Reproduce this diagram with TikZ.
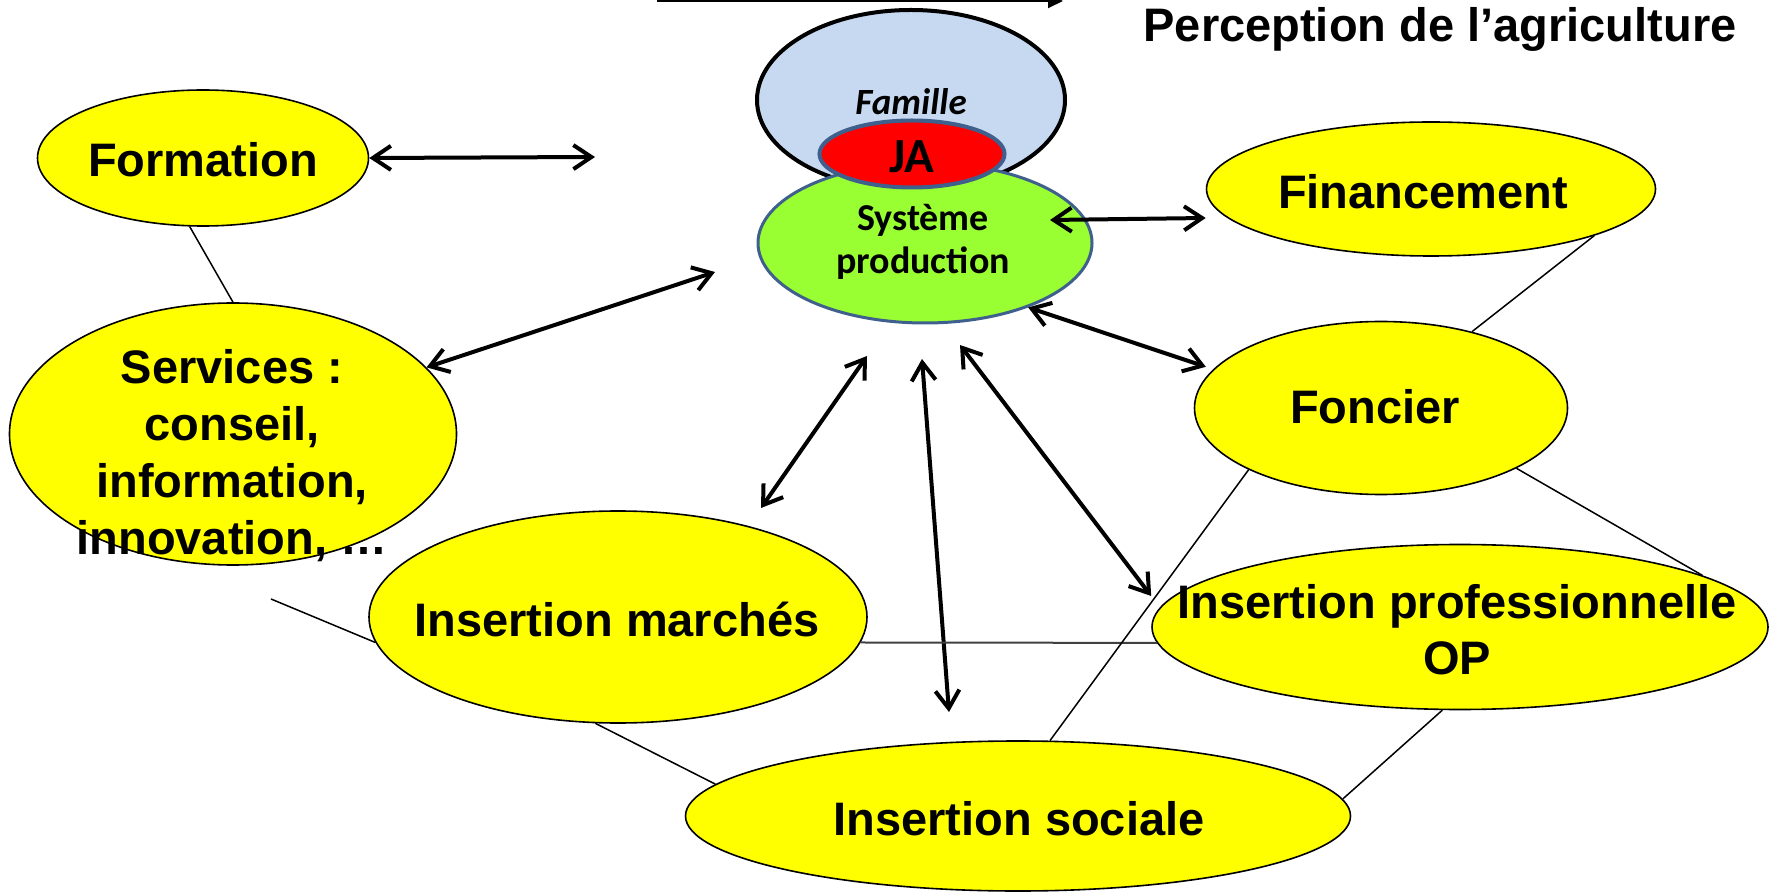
\documentclass[tikz,border=0pt]{standalone}
\usepackage{fontspec}
\setmainfont{Liberation Sans}
\newfontfamily\calibri{Carlito}
\usetikzlibrary{shapes.geometric,arrows.meta}
\definecolor{amarillo}{HTML}{FFFF00}
\definecolor{verde}{HTML}{99FF33}
\definecolor{celeste}{HTML}{C6D9F1}
\definecolor{azul}{HTML}{3F5F8C}
\tikzset{
  elipse/.style={ellipse, draw, fill=amarillo, line width=0.8pt, inner sep=0pt},
  etiq/.style={font=\bfseries\fontsize{23.5}{28.5}\selectfont, align=center, inner sep=0pt},
  flecha/.style={<->, line width=2pt},
  enlace/.style={line width=0.75pt}
}
\begin{document}
\begin{tikzpicture}[x=0.5pt, y=-0.5pt, >={Straight Barb[length=9pt,width=12pt]}]
    \useasboundingbox (0,0) rectangle (1771,892);

    % Dibuja las elipses amarillas
    \node[elipse, minimum width=165.5pt, minimum height=68pt] (form) at (203,158) {};
    \node[elipse, minimum width=223.5pt, minimum height=131pt] (serv) at (233,434) {};
    \node[elipse, minimum width=249pt, minimum height=106pt] (marches) at (618,617) {};
    \node[elipse, minimum width=224.5pt, minimum height=67pt] (finan) at (1431,189) {};
    \node[elipse, minimum width=186.5pt, minimum height=86.5pt] (fonc) at (1381,408) {};
    \node[elipse, minimum width=308pt, minimum height=82.5pt] (prof) at (1460,627) {};
    \node[elipse, minimum width=332.5pt, minimum height=75pt] (soc) at (1018,816) {};

    % Dibuja la familia, el sistema y el JA
    \node[ellipse, draw, line width=2pt, fill=celeste, inner sep=0pt,
          minimum width=154pt, minimum height=90pt] (fam) at (911,100) {};
    \node[ellipse, draw=azul, line width=1.5pt, fill=verde, inner sep=0pt,
          minimum width=167pt, minimum height=80pt] (sys) at (925,243) {};
    \node[ellipse, draw=azul, line width=2pt, fill=red, inner sep=0pt,
          minimum width=92.5pt, minimum height=33.5pt] (ja) at (912,154) {};

    % Etiquetas
    \node[etiq] (form-t) at (203,160) {Formation};
    \node[etiq] (serv-t) at (232,456) {Services :\\conseil,\\information,\\innovation, …};
    \node[etiq] (marches-t) at (617,619) {Insertion marchés};
    \node[etiq] (finan-t) at (1423,192) {Financement};
    \node[etiq] (fonc-t) at (1375,407) {Foncier};
    \node[etiq, font=\bfseries\fontsize{23.5}{28}\selectfont] (prof-t) at (1457,630) {Insertion professionnelle\\OP};
    \node[etiq] (soc-t) at (1019,819) {Insertion sociale};
    \node[etiq] (titulo) at (1440,29) {Perception de l’agriculture};
    \node[font=\calibri\bfseries\itshape\fontsize{18.5}{22}\selectfont, inner sep=0pt] (fam-t) at (911,102) {Famille};
    \node[font=\calibri\bfseries\fontsize{24.5}{28}\selectfont, inner sep=0pt] (ja-t) at (912,157) {JA};
    \node[font=\calibri\bfseries\fontsize{19}{21.5}\selectfont, align=center, inner sep=0pt] (sys-t) at (923,242) {Système\\production};

    % Extremos libres de las flechas
    \coordinate (f1) at (595,157);
    \coordinate (s1) at (715,272);
    \coordinate (c1) at (1050,220);
    \coordinate (m1) at (867,356);
    \coordinate (m2) at (761,508);
    \coordinate (v1) at (922,359);
    \coordinate (v2) at (949,712);
    \coordinate (p1) at (960,345);
    \coordinate (l1) at (271,599);
    \coordinate (t1) at (657,1);
    \coordinate (t2) at (1063,1);

    % Dibuja las flechas dobles
    \draw[flecha] (form.east) -- (f1);
    \draw[flecha] (serv.19) -- (s1);
    \draw[flecha] (c1) -- ([yshift=-14.5pt]finan.west);
    \draw[flecha] (sys.-32) -- ([xshift=-5pt]fonc.166);
    \draw[flecha] (m1) -- (m2);
    \draw[flecha] (v1) -- (v2);
    \draw[flecha] (p1) -- ([yshift=15.5pt]prof.west);

    % Dibuja los enlaces finos
    \draw[enlace] (form.259) -- (serv.90);
    \draw[enlace] (l1) -- (marches.186);
    \draw[enlace, black!75, line width=1pt] (marches.-6) -- (prof.183);
    \draw[enlace] (marches.258) -- (soc.174);
    \draw[enlace] (fonc.205) -- (soc.67);
    \draw[enlace] (finan.-16) -- (fonc.40);
    \draw[enlace] (fonc.-24) -- (prof.12);
    \draw[enlace] (prof.258) -- (soc.3);

    % Flecha de arriba
    \draw[line width=1pt, -{Triangle[length=7.5pt,width=7pt]}] (t1) -- (t2);
\end{tikzpicture}
\end{document}
